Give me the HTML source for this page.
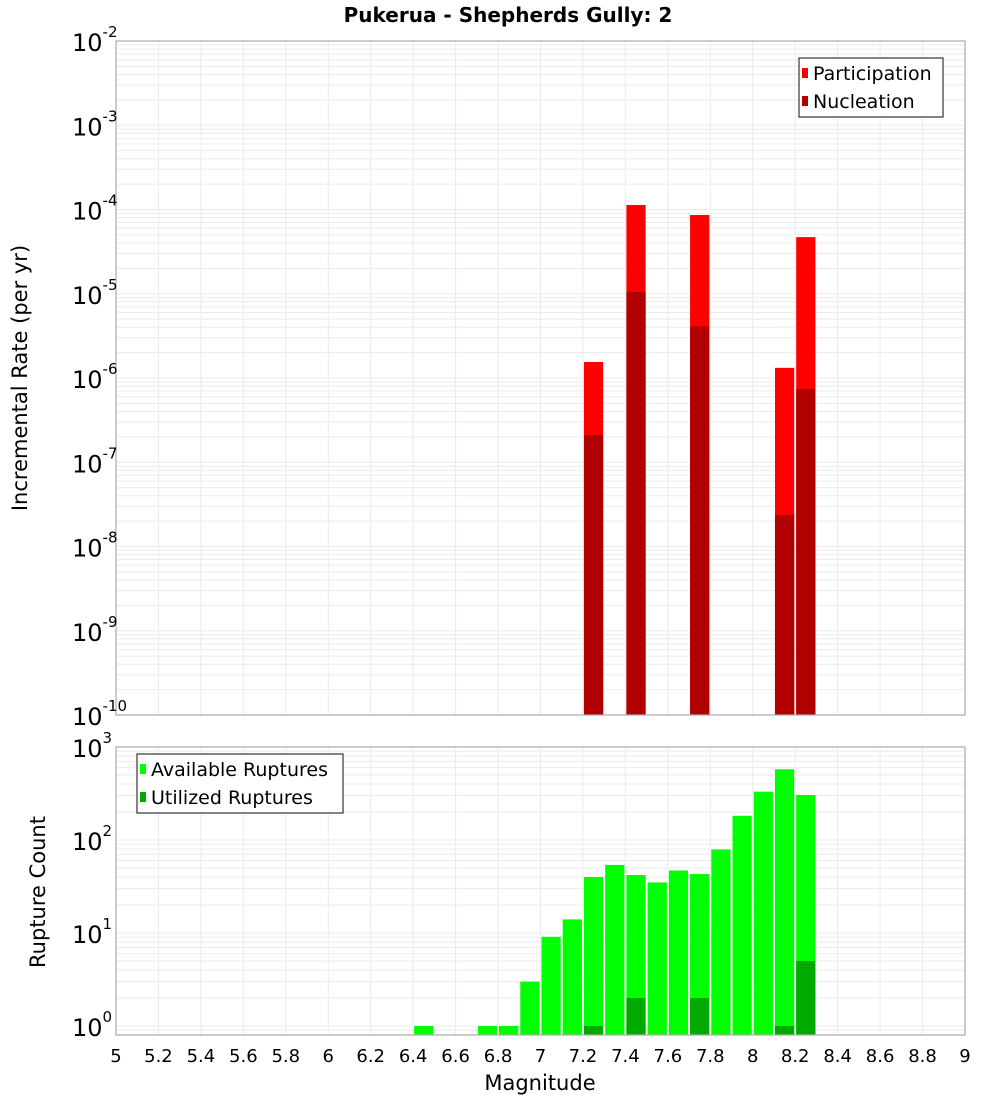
<!DOCTYPE html>
<html><head><meta charset="utf-8"><style>
body{margin:0;background:#fff;font-family:"DejaVu Sans","Liberation Sans",sans-serif;}
svg text{font-family:"DejaVu Sans","Liberation Sans",sans-serif;}
</style></head><body>
<svg id="c" width="1000" height="1100" xmlns="http://www.w3.org/2000/svg">
<text x="508" y="22" text-anchor="middle" font-size="20" font-weight="bold">Pukerua - Shepherds Gully: 2</text>
<text transform="translate(27,378) rotate(-90)" text-anchor="middle" font-size="21">Incremental Rate (per yr)</text>
<text transform="translate(45,892) rotate(-90)" text-anchor="middle" font-size="21">Rupture Count</text>
<text x="540" y="1090" text-anchor="middle" font-size="21">Magnitude</text>
</svg>
<script>
const mags=[6.45,6.75,6.85,6.95,7.05,7.15,7.25,7.35,7.45,7.55,7.65,7.75,7.85,7.95,8.05,8.15,8.25];
const available=[1,1,1,3,9.1,14,40,54,42,35,47,43,79,182,331,576,305];
const utilMags=[7.25,7.45,7.75,8.15,8.25];
const utilized=[1,2,2,1,5];
const rateMags=[7.25,7.45,7.75,8.15,8.25];
const participation=[1.55e-6,1.13e-4,8.6e-5,1.32e-6,4.7e-5];
const nucleation=[2.1e-7,1.05e-5,4.1e-6,2.37e-8,7.4e-7];
const xTicks=[5,5.2,5.4,5.6,5.8,6,6.2,6.4,6.6,6.8,7,7.2,7.4,7.6,7.8,8,8.2,8.4,8.6,8.8,9];
const topExps=[-10,-9,-8,-7,-6,-5,-4,-3,-2];
const botExps=[0,1,2,3];

const svg=document.getElementById('c');
const NS='http://www.w3.org/2000/svg';
function mk(tag,attrs,parent){const e=document.createElementNS(NS,tag);for(const k in attrs)e.setAttribute(k,attrs[k]);(parent||svg).appendChild(e);return e;}
const L=116,R=965;
const xs=m=>L+(m-5)/4*(R-L);
const T1=41,B1=715,yTop=v=>T1+(-2-Math.log10(v))*(B1-T1)/8;
const T2=747,B2=1035,D2=93,yBot=v=>T2+(3-Math.log10(v))*D2;

function grid(top,bot,exps,yf,name){
  const g=mk('g',{});
  
  
  xTicks.forEach(t=>{const l=mk('line',{x1:xs(t),x2:xs(t),y1:top,y2:bot,stroke:'#ebebeb','stroke-width':1},g);});
  for(let i=0;i<exps.length;i++){for(let k=1;k<=9;k++){const v=k*Math.pow(10,exps[i]);const y=yf(v);if(y<top-0.5||y>bot+0.5)continue;mk('line',{x1:L,x2:R,y1:y,y2:y,stroke:'#ebebeb','stroke-width':1},g);}}
  const lo=Math.pow(10,exps[0]-1);for(let k=1;k<=9;k++){const y=yf(k*lo);if(y>=top&&y<=bot)mk('line',{x1:L,x2:R,y1:y,y2:y,stroke:'#ebebeb','stroke-width':1},g);}
}
function frame(top,bot,name){const r=mk('rect',{x:L,y:top,width:R-L,height:bot-top,fill:'none',stroke:'#aaa','stroke-width':1.2});}
function bar(m,v,base,yf,color,name){const x0=xs(m-0.05)+1,x1=xs(m+0.05)-1;const y=yf(v);const r=mk('rect',{x:x0,y:y,width:x1-x0,height:base-y,fill:color});}
function ylabels(exps,yf,name){exps.forEach(e=>{const t=mk('text',{x:72,y:yf(Math.pow(10,e))+10,'font-size':24});t.textContent='10';const s=mk('tspan',{dy:-14,'font-size':15},t);s.textContent=String(e);});}

grid(T1,B1,topExps,yTop,'top');
grid(T2,B2,botExps,yBot,'bottom');
rateMags.forEach((m,i)=>bar(m,participation[i],B1,yTop,'#ff0000','participation-bar'));
rateMags.forEach((m,i)=>bar(m,nucleation[i],B1,yTop,'#b00000','nucleation-bar'));
mags.forEach((m,i)=>bar(m,available[i],B2,yBot,'#00ff00','available-bar'));
utilMags.forEach((m,i)=>bar(m,utilized[i],B2,yBot,'#00aa00','utilized-bar'));
frame(T1,B1,'top');frame(T2,B2,'bottom');
ylabels(topExps,yTop,'top-y');
ylabels(botExps,yBot,'bottom-y');
xTicks.forEach(t=>{const e=mk('text',{x:xs(t),y:1062,'text-anchor':'middle','font-size':18});e.textContent=String(t);});

function legend(x,y,w,items,name){const g=mk('g',{});
  mk('rect',{x:x,y:y,width:w,height:59,fill:'#fff',stroke:'#333','stroke-width':1.2},g);
  items.forEach((it,i)=>{const cy=y+15+i*28;mk('rect',{x:x+3,y:cy-5,width:6,height:10,fill:it[1]},g);const t=mk('text',{x:x+14,y:cy+7,'font-size':19},g);t.textContent=it[0];});}
legend(799,58,144,[['Participation','#ff0000'],['Nucleation','#b00000']],'top-legend');
legend(137,754,206,[['Available Ruptures','#00ff00'],['Utilized Ruptures','#00aa00']],'bottom-legend');
</script>
</body></html>
